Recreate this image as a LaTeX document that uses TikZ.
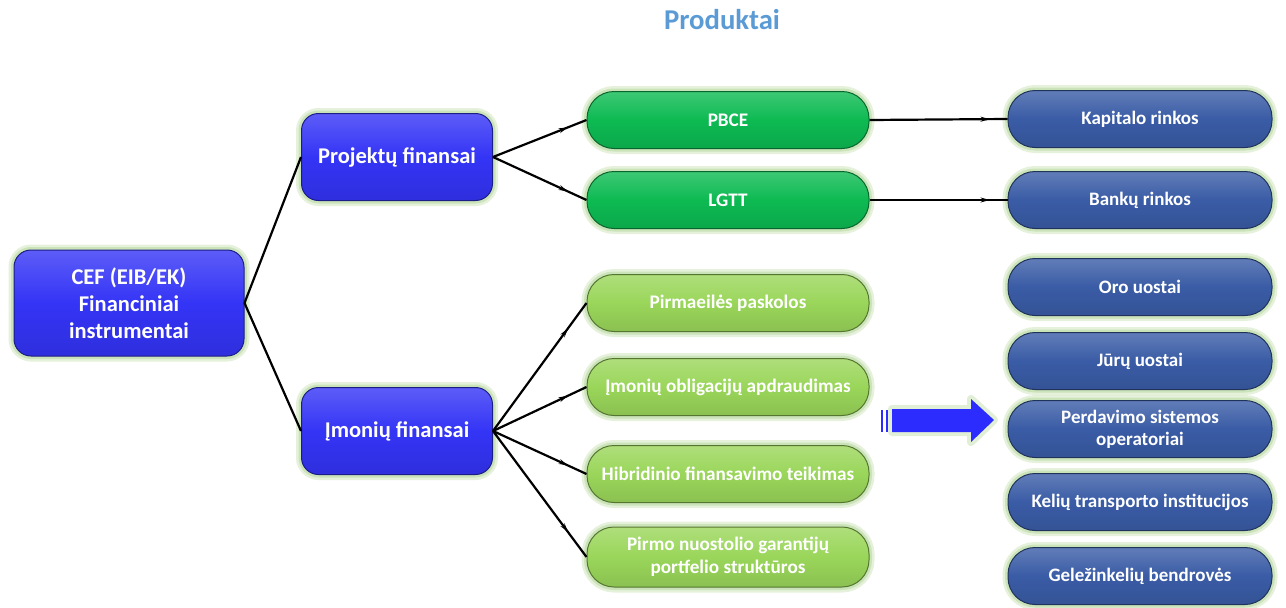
\documentclass[tikz,border=0pt]{standalone}
\usepackage{fontspec}
\setmainfont{Carlito}
\usetikzlibrary{arrows.meta,decorations.markings}
\definecolor{cblue}{HTML}{3434F6}
\definecolor{dgreen}{HTML}{0DBA52}
\definecolor{lgreen}{HTML}{9AD65A}
\definecolor{sblue}{HTML}{3A5CA6}
\definecolor{halo}{HTML}{C5DFB0}
\definecolor{ttl}{HTML}{5B9BD5}
\definecolor{arrblue}{HTML}{2C2CFF}
\tikzset{
  box/.style={draw=#1!55!black, line width=1pt, text=white, align=center,
    inner sep=0pt, top color=#1!80!white, bottom color=#1!90!black, middle color=#1,
    preaction={draw=halo, line width=11pt, opacity=0.45},
    preaction={draw=halo, line width=6pt, opacity=0.8}},
  bigbox/.style={box=cblue, rounded corners=17pt, font=\bfseries\fontsize{22.5}{27}\selectfont},
  gbox/.style={box=#1, rounded corners=27pt, minimum width=282pt, minimum height=57pt,
    font=\bfseries\fontsize{19.2}{23}\selectfont},
  rbox/.style={box=sblue, rounded corners=27pt, minimum width=264pt, minimum height=57pt,
    font=\bfseries\fontsize{19}{22}\selectfont},
  conn/.style={line width=2.2pt, postaction={decorate},
    decoration={markings, mark=at position #1 with {\arrow{Stealth[length=9pt,width=5pt]}}}},
  conn/.default=0.8,
  plain/.style={line width=2.2pt}
}
\begin{document}
\begin{tikzpicture}[x=1pt,y=-1pt]
\useasboundingbox (0,0) rectangle (1286,608);
\node[text=ttl, font=\bfseries\fontsize{28.7}{32}\selectfont] (title) at (722,20) {Produktai};

\node[bigbox, minimum width=230pt, minimum height=106pt] (cef) at (129,303) {CEF (EIB/EK)\\Financiniai\\instrumentai};
\node[bigbox, minimum width=191pt, minimum height=87pt] (proj) at (397,157) {Projektų finansai};
\node[bigbox, minimum width=191pt, minimum height=87pt] (imon) at (397,431) {Įmonių finansai};

\node[gbox=dgreen] (pbce) at (728,120) {PBCE};
\node[gbox=dgreen] (lgtt) at (728,200) {LGTT};
\node[gbox=lgreen] (pirm) at (728,303) {Pirmaeilės paskolos};
\node[gbox=lgreen] (oblig) at (728,387) {Įmonių obligacijų apdraudimas};
\node[gbox=lgreen] (hibr) at (728,474) {Hibridinio finansavimo teikimas};
\node[gbox=lgreen, minimum height=60pt] (nuost) at (728,557) {Pirmo nuostolio garantijų\\portfelio struktūros};

\node[rbox] (kap) at (1140,119) {Kapitalo rinkos};
\node[rbox] (bank) at (1140,200) {Bankų rinkos};
\node[rbox] (oro) at (1140,287) {Oro uostai};
\node[rbox] (juru) at (1140,361) {Jūrų uostai};
\node[rbox] (perd) at (1140,429) {Perdavimo sistemos\\operatoriai};
\node[rbox] (keliu) at (1140,502) {Kelių transporto institucijos};
\node[rbox] (gelez) at (1140,576) {Geležinkelių bendrovės};

\draw[plain] (cef.east) -- (proj.west);
\draw[plain] (cef.east) -- (imon.west);
\draw[conn] (proj.east) -- (pbce.west);
\draw[conn] (proj.east) -- (lgtt.west);
\draw[conn=0.87] (pbce.east) -- (kap.west);
\draw[conn=0.87] (lgtt.east) -- (bank.west);
\draw[conn] (imon.east) -- (pirm.west);
\draw[conn] (imon.east) -- (oblig.west);
\draw[conn] (imon.east) -- (hibr.west);
\draw[conn] (imon.east) -- (nuost.west);

% big arrow
\fill[arrblue, preaction={draw=halo, line width=8pt, opacity=0.5, line join=round}]
  (892,409) -- (971,409) -- (971,399) -- (994,420) -- (971,442) -- (971,432) -- (892,432) -- cycle;
\fill[arrblue] (881,410) rectangle (883,432);
\fill[arrblue] (885.5,410) rectangle (887.5,432);
\end{tikzpicture}
\end{document}
